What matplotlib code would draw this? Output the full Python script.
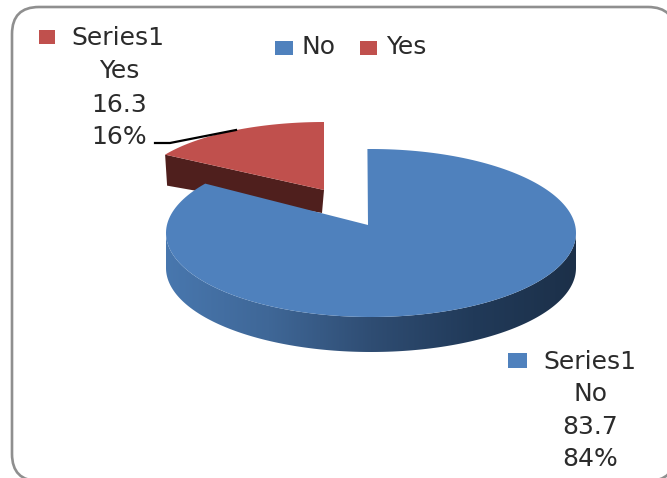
import numpy as np
import matplotlib
matplotlib.use("Agg")
import matplotlib.pyplot as plt
from matplotlib.patches import FancyBboxPatch, Polygon, Rectangle
from matplotlib.colors import LinearSegmentedColormap

categories = ["No", "Yes"]
values = [83.7, 16.3]
percent_labels = ["84%", "16%"]
series_name = "Series1"

BLUE = "#4f81bd"
RED = "#c0504d"
DARK_RED = "#4f1f1d"
TEXT = "#2b2b2b"
FONT = 18

plt.rcParams['font.family'] = ['DejaVu Sans']

# the axes run in picture pixels, so the 3d pie is laid out by hand
fig = plt.figure(figsize=(6.67, 4.78), dpi=100)
ax = fig.add_axes([0, 0, 1, 1])
ax.set_xlim(0, 667)
ax.set_ylim(478, 0)
ax.axis("off")

frame = FancyBboxPatch((12, 7), 663, 474, boxstyle="round,pad=0,rounding_size=27",
                       fc="white", ec="#8f8f8f", lw=1.9)
ax.add_patch(frame)


def rim(cx, cy, rx, ry, t0, t1, n=200):
    # t is the clockwise angle from 12 o'clock
    t = np.radians(np.linspace(t0, t1, n))
    return np.column_stack([cx + rx * np.sin(t), cy - ry * np.cos(t)])


# tilted view squeezes the gap of the blue slice a little
SQUEEZE = 0.92

# blue slice
b_cx, b_cy, b_rx, b_ry, b_depth = 371, 233, 205, 84, 35
b_end = 360 - SQUEEZE * 360 * values[1] / sum(values)

# red slice sits behind it, pulled out to the upper left
r_cx, r_cy, r_rx, r_ry, r_depth = 324, 190, 186, 68, 28
r_start = 360 - 360 * values[1] / sum(values)
r_top = rim(r_cx, r_cy, r_rx, r_ry, r_start, 360)
r_left = r_top[0]
ax.add_patch(Polygon([(r_cx, r_cy), r_left, r_left + (2, r_depth + 3), (r_cx - 2, r_cy + r_depth - 5)],
                     fc=DARK_RED, ec="none", zorder=2))
ax.add_patch(Polygon(np.vstack([[(r_cx, r_cy)], r_top]), fc=RED, ec="none", zorder=3))

# outer wall of the blue slice, with gradient
front = rim(b_cx, b_cy, b_rx, b_ry, 90, 270)
wall = np.vstack([front, (front + (0, b_depth))[::-1]])
side_cmap = LinearSegmentedColormap.from_list("side", ["#4877ae", "#3f6797", "#2f4d73", "#213a59", "#1c3049"])
im = ax.imshow(np.linspace(0, 1, 256).reshape(1, -1), cmap=side_cmap, aspect="auto",
               extent=(b_cx - b_rx, b_cx + b_rx, b_cy + b_ry + b_depth + 5, b_cy - 20), zorder=4)
im.set_clip_path(Polygon(wall, transform=ax.transData))
ax.set_xlim(0, 667)
ax.set_ylim(478, 0)

b_top = rim(b_cx, b_cy, b_rx, b_ry, -1, b_end)
ax.add_patch(Polygon(np.vstack([[(b_cx - 3, b_cy - 8)], b_top]), fc=BLUE, ec="none", zorder=5))

# legend
ax.add_patch(Rectangle((275, 41), 18, 14, fc=BLUE, ec="none"))
ax.add_patch(Rectangle((360, 41), 17, 14, fc=RED, ec="none"))
ax.text(302, 47, categories[0], fontsize=FONT, color=TEXT, va="center", ha="left")
ax.text(386, 47, categories[1], fontsize=FONT, color=TEXT, va="center", ha="left")

# data labels
ax.add_patch(Rectangle((39, 30), 16, 14, fc=RED, ec="none"))
ax.text(118, 38, series_name, fontsize=FONT, color=TEXT, va="center", ha="center")
ax.text(119, 71, categories[1], fontsize=FONT, color=TEXT, va="center", ha="center")
ax.text(119, 105, f"{values[1]}", fontsize=FONT, color=TEXT, va="center", ha="center")
ax.text(119, 137, percent_labels[1], fontsize=FONT, color=TEXT, va="center", ha="center")
ax.plot([155, 170, 236], [143, 143, 130], color="black", lw=1.6, zorder=6)

ax.add_patch(Rectangle((508, 353), 19, 15, fc=BLUE, ec="none"))
ax.text(590, 362, series_name, fontsize=FONT, color=TEXT, va="center", ha="center")
ax.text(590, 394, categories[0], fontsize=FONT, color=TEXT, va="center", ha="center")
ax.text(590, 427, f"{values[0]}", fontsize=FONT, color=TEXT, va="center", ha="center")
ax.text(590, 459, percent_labels[0], fontsize=FONT, color=TEXT, va="center", ha="center")

fig.savefig("out.png", dpi=100)
